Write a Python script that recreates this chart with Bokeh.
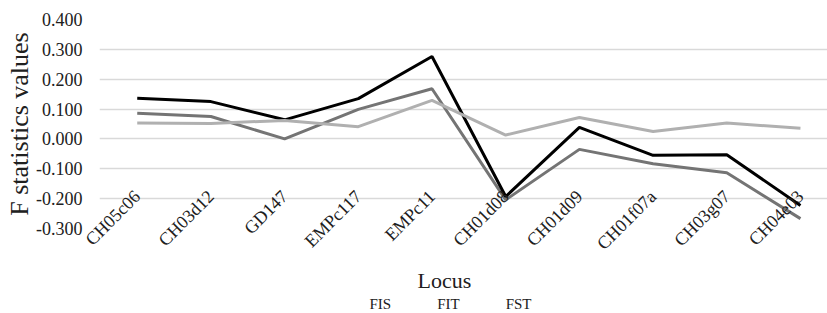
import math
from bokeh.plotting import figure
from bokeh.layouts import column
from bokeh.models import (Range1d, FixedTicker, NumeralTickFormatter, Legend, LegendItem, Title)
from bokeh.embed import file_html
from bokeh.resources import INLINE

loci = ["CH05c06", "CH03d12", "GD147", "EMPc117", "EMPc11", "CH01d08",
        "CH01d09", "CH01f07a", "CH03g07", "CH04e03"]
f_is = [0.086, 0.075, 0.000, 0.099, 0.168, -0.204, -0.035, -0.083, -0.113, -0.267]
f_it = [0.136, 0.125, 0.064, 0.135, 0.276, -0.193, 0.039, -0.055, -0.053, -0.223]
f_st = [0.053, 0.052, 0.062, 0.041, 0.129, 0.013, 0.072, 0.025, 0.053, 0.036]
y_ticks = [-0.3, -0.2, -0.1, 0.0, 0.1, 0.2, 0.3, 0.4]
series_names = ["FIS", "FIT", "FST"]
series_colors = ["#747474", "#000000", "#b0b0b0"]
y_title = "F statistics values"
x_title = "Locus"

FONT = "Liberation Serif"
TXT = "#202020"

xs = list(range(len(loci)))
p = figure(width=827, height=295, output_backend="svg", toolbar_location=None,
           x_range=Range1d(-0.512, 9.367), y_range=Range1d(-0.3, 0.4),
           min_border_left=99, min_border_right=0, min_border_top=19,
           min_border_bottom=64)
p.outline_line_color = None
p.background_fill_color = "white"
p.border_fill_color = "white"

# y axis
yax = p.yaxis[0]
yax.ticker = FixedTicker(ticks=y_ticks)
yax.formatter = NumeralTickFormatter(format="0.000")
yax.axis_line_color = None
yax.major_tick_line_color = None
yax.major_tick_out = 0
yax.minor_tick_line_color = None
yax.major_label_standoff = 17
yax.major_label_text_font = FONT
yax.major_label_text_font_size = "18px"
yax.major_label_text_color = TXT
p.ygrid.ticker = FixedTicker(ticks=y_ticks)
p.ygrid.grid_line_color = "#d9d9d9"
p.ygrid.grid_line_width = 1.3
p.xgrid.grid_line_color = None

# x axis
xax = p.xaxis[0]
xax.ticker = FixedTicker(ticks=xs)
xax.major_label_overrides = {i: n for i, n in enumerate(loci)}
xax.major_label_orientation = math.pi / 4
xax.axis_line_color = None
xax.major_tick_line_color = None
xax.major_tick_out = 0
xax.minor_tick_line_color = None
xax.major_label_standoff = -35
xax.major_label_text_font = FONT
xax.major_label_text_font_size = "18px"
xax.major_label_text_color = TXT

# axis titles as side titles
p.add_layout(Title(text=y_title, align="center", standoff=0,
                   text_font=FONT, text_font_size="26px", text_font_style="normal",
                   text_color=TXT), "left")
p.add_layout(Title(text=x_title, align="left", offset=318, standoff=5,
                   text_font=FONT, text_font_size="22px", text_font_style="normal",
                   text_color=TXT), "below")

for vals, col in zip([f_is, f_it, f_st], series_colors):
    p.line(xs, vals, line_color=col, line_width=3)

# legend strip (separate small figure so the legend sits inside a frame)
q = figure(width=827, height=18, output_backend="svg", toolbar_location=None,
           x_axis_location=None, y_axis_location=None,
           x_range=Range1d(0, 1), y_range=Range1d(0, 1),
           min_border_left=99, min_border_right=0, min_border_top=0,
           min_border_bottom=0)
q.outline_line_color = None
q.grid.visible = False
q.background_fill_color = "white"
q.border_fill_color = "white"
swatches = [q.line(x=[], y=[], line_color=c, line_width=3) for c in series_colors]
ghost = q.line(x=[], y=[], line_alpha=0)
items = [LegendItem(label=t, renderers=[r]) for t, r in zip(series_names, swatches)]
items.append(LegendItem(label="\u00a0", renderers=[ghost]))
legend = Legend(items=items, location="center", orientation="horizontal",
                glyph_width=27, glyph_height=18, label_height=18, label_width=9,
                label_standoff=3, spacing=16, padding=0, margin=0,
                border_line_color=None, background_fill_alpha=0,
                label_text_font=FONT, label_text_font_size="15px",
                label_text_color=TXT)
q.add_layout(legend, "center")

open("out.html", "w").write(file_html(column(p, q, spacing=0), INLINE))
